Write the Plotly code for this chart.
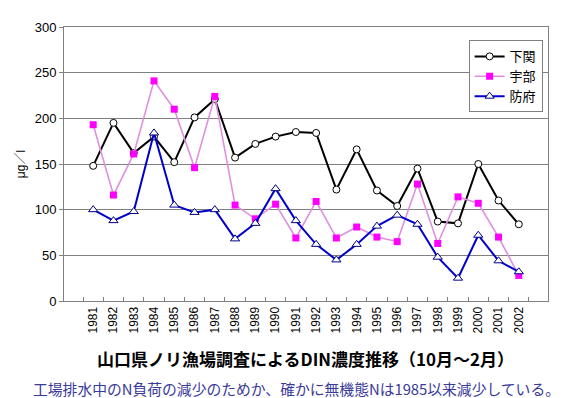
import plotly.graph_objects as go

years = [str(y) for y in range(1981, 2003)]
shimonoseki = [148, 195, 162, 180, 152, 201, 221, 157, 172, 180, 185, 184, 122, 166, 121, 104, 145, 87, 85, 150, 110, 84]
ube = [193, 116, 161, 241, 210, 146, 224, 105, 90, 106, 69, 109, 69, 81, 70, 65, 128, 63, 114, 107, 70, 28]
hofu = [100, 88, 98, 184, 105, 97, 100, 68, 85, 123, 88, 62, 45, 62, 82, 94, 84, 48, 25, 72, 44, 32]

font = "Liberation Sans, Arial, Noto Sans CJK JP, sans-serif"

fig = go.Figure()
fig.add_trace(go.Scatter(x=years, y=shimonoseki, name="下関", mode="lines+markers",
                         line=dict(color="black", width=2),
                         marker=dict(symbol="circle", size=7, color="white",
                                     line=dict(color="black", width=1))))
fig.add_trace(go.Scatter(x=years, y=ube, name="宇部", mode="lines+markers",
                         line=dict(color="#E08FE0", width=1.6),
                         marker=dict(symbol="square", size=7, color="#FF00FF",
                                     line=dict(color="#FF00FF", width=0))))
fig.add_trace(go.Scatter(x=years, y=hofu, name="防府", mode="lines+markers",
                         line=dict(color="#0000CC", width=2),
                         marker=dict(symbol="triangle-up", size=8, color="white",
                                     line=dict(color="#000080", width=1))))

fig.update_layout(
    width=567, height=398,
    margin=dict(l=51, r=27, t=19, b=105),
    paper_bgcolor="white", plot_bgcolor="white",
    font=dict(family=font, size=13, color="black"),
    showlegend=True,
    legend=dict(x=0.836, y=0.951, xanchor="left", yanchor="top",
                bgcolor="white", bordercolor="#808080", borderwidth=1,
                font=dict(size=13, family="Noto Sans CJK JP"),
                tracegroupgap=0, itemwidth=30),
    xaxis=dict(type="category", tickangle=-90, tickfont=dict(size=12),
               showline=True, linecolor="#808080", mirror=True,
               ticks="inside", ticklen=4, tickcolor="#808080",
               tickson="boundaries", showgrid=False),
    yaxis=dict(range=[0, 300], dtick=50, showgrid=True, gridcolor="#808080",
               gridwidth=1, showline=True, linecolor="#808080", mirror=True,
               ticks="outside", ticklen=4, tickcolor="#808080",
               tickfont=dict(size=13), zeroline=False,
               title=dict(text="μg／l", standoff=6, font=dict(size=12))),
    annotations=[
        dict(text="<b>山口県ノリ漁場調査によるDIN濃度推移（10月～2月）</b>",
             xref="paper", yref="paper", x=(295 - 51) / 489, y=-(351 - 293.3) / 274,
             xanchor="center", yanchor="middle", showarrow=False,
             font=dict(size=17, family="Noto Sans CJK JP", color="black")),
        dict(text="工場排水中のN負荷の減少のためか、確かに無機態Nは1985以来減少している。",
             xref="paper", yref="paper", x=(286 - 51) / 489, y=-(381 - 293.3) / 274,
             xanchor="center", yanchor="middle", showarrow=False,
             font=dict(size=14.8, family="Noto Sans CJK JP", color="#3A3A9A")),
    ],
)

fig.write_html("out.html")
